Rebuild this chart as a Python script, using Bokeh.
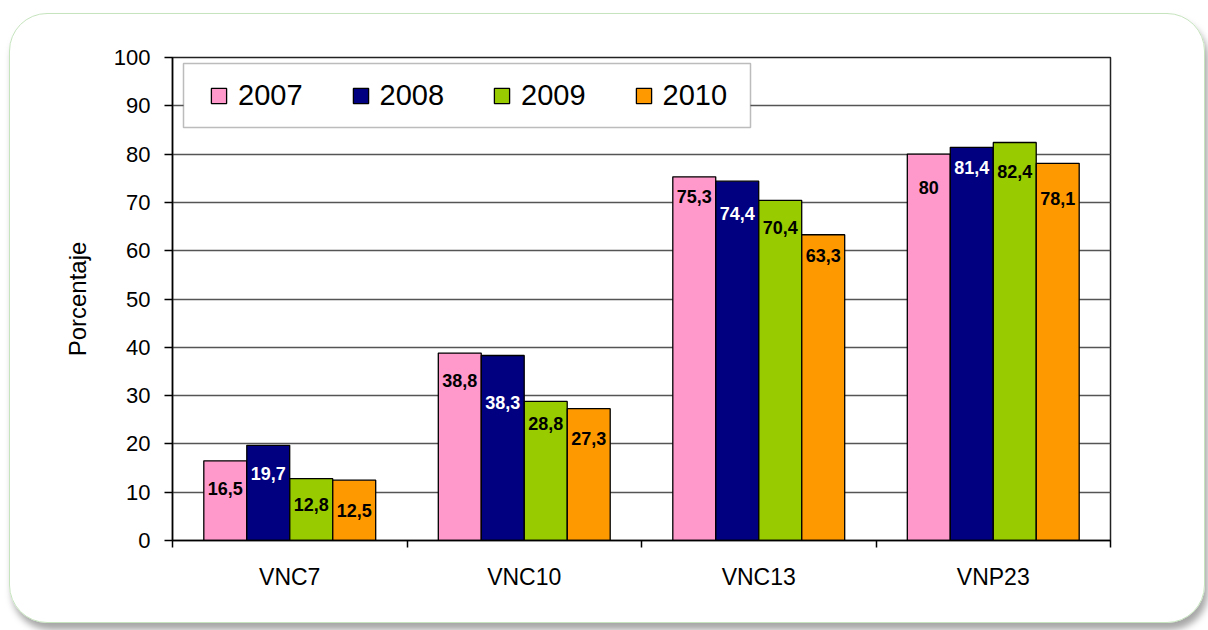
import numpy as np
from bokeh.plotting import figure
from bokeh.models import ColumnDataSource, Range1d, FixedTicker, BoxAnnotation
from bokeh.transform import dodge
from bokeh.core.properties import value
from bokeh.embed import file_html
from bokeh.resources import INLINE

# ---- data ----
categories = ["VNC7", "VNC10", "VNC13", "VNP23"]
years = ["2007", "2008", "2009", "2010"]
v2007 = [16.5, 38.8, 75.3, 80.0]
v2008 = [19.7, 38.3, 74.4, 81.4]
v2009 = [12.8, 28.8, 70.4, 82.4]
v2010 = [12.5, 27.3, 63.3, 78.1]
series = [v2007, v2008, v2009, v2010]
y_ticks = [0, 10, 20, 30, 40, 50, 60, 70, 80, 90, 100]

# ---- style ----
colors = ["#FF99CC", "#000080", "#99CC00", "#FF9900"]
label_colors = ["black", "white", "black", "black"]
offsets = [-0.275, -0.0917, 0.0917, 0.275]
bar_w = 0.183
# per-bar label offset below bar top (px), as placed in the original
label_dy = [[28, 27, 20, 33], [28, 47, 32, 20], [26, 22, 27, 29], [30, 30, 21, 35]]

FONT = "Liberation Sans"
n = len(categories)
centres = list(np.arange(n) + 0.5)

p = figure(x_range=Range1d(0, n), y_range=Range1d(0, 100),
           width=1194, height=608, frame_width=938, frame_height=483,
           min_border_left=162, min_border_top=43, min_border_right=94, min_border_bottom=82,
           output_backend="svg", toolbar_location=None,
           margin=(13, 0, 0, 9))
p.border_fill_color = None
p.background_fill_color = "white"
p.outline_line_color = "#222"
p.outline_line_width = 1.5
p.styles = {"border": "1.5px solid #c6e4be", "border-radius": "38px",
            "box-shadow": "3px 7px 7px rgba(0,0,0,0.35)"}

for i, (yr, vals) in enumerate(zip(years, series)):
    src = ColumnDataSource(dict(
        cx=centres, val=vals,
        lab=[f"{v:g}".replace(".", ",") for v in vals],
        dy=label_dy[i]))
    p.vbar(x=dodge("cx", offsets[i]), top="val", width=bar_w, source=src,
           fill_color=colors[i], line_color="black", line_width=1.3, legend_label=yr)
    p.text(x=dodge("cx", offsets[i]), y="val", text="lab", source=src,
           y_offset="dy", text_align="center", text_baseline="middle",
           text_font=value(FONT), text_font_size="18px", text_font_style="bold",
           text_color=label_colors[i])

# y axis
yax = p.yaxis[0]
yax.ticker = FixedTicker(ticks=y_ticks)
yax.axis_label = "Porcentaje"
yax.axis_label_text_font = FONT
yax.axis_label_text_font_size = "24px"
yax.axis_label_text_font_style = "normal"
yax.axis_label_text_color = "black"
yax.axis_label_standoff = 20
yax.major_label_text_font = FONT
yax.major_label_text_font_size = "22px"
yax.major_label_text_color = "black"
yax.major_label_standoff = 14
yax.major_tick_in = 0
yax.major_tick_out = 8
yax.minor_tick_out = 0
yax.minor_tick_in = 0
yax.axis_line_color = "black"
yax.axis_line_width = 1.5
yax.major_tick_line_width = 1.5

p.ygrid.grid_line_color = "#555"
p.ygrid.grid_line_width = 1.3
p.xgrid.visible = False

# x axis: labels at centres, ticks on category boundaries
xax = p.xaxis[0]
xax.ticker = FixedTicker(ticks=centres, minor_ticks=list(range(n + 1)))
xax.major_label_overrides = {c: lab for c, lab in zip(centres, categories)}
xax.major_tick_in = 0
xax.major_tick_out = 0
xax.minor_tick_in = 0
xax.minor_tick_out = 7
xax.minor_tick_line_color = "black"
xax.minor_tick_line_width = 1.5
xax.axis_line_color = "black"
xax.axis_line_width = 1.5
xax.major_label_text_font = FONT
xax.major_label_text_font_size = "23px"
xax.major_label_text_color = "black"
xax.major_label_standoff = 16

# legend box
box = BoxAnnotation(left=11, right=578, top=477, bottom=413,
                    left_units="screen", right_units="screen",
                    top_units="screen", bottom_units="screen",
                    fill_color="white", fill_alpha=1.0, line_color="#222", line_width=1.5)
p.add_layout(box)

lg = p.legend[0]
lg.orientation = "horizontal"
lg.location = (37, 428)
lg.padding = 0
lg.margin = 0
lg.spacing = 48
lg.glyph_width = 19
lg.glyph_height = 19
lg.label_standoff = 10
lg.label_text_font = FONT
lg.label_text_font_size = "29px"
lg.label_text_color = "black"
lg.border_line_color = None
lg.background_fill_alpha = 0

open("out.html", "w").write(file_html(p, INLINE))
